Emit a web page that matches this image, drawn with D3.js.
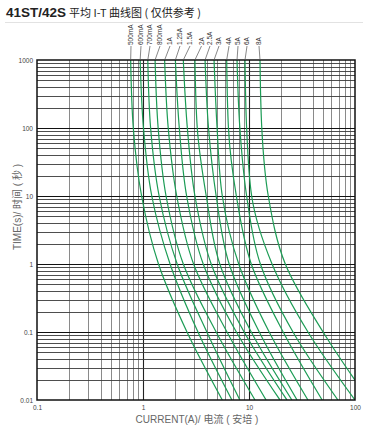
<!DOCTYPE html>
<html><head><meta charset="utf-8">
<script src="https://cdn.jsdelivr.net/npm/d3@7"></script>
<style>body{margin:0;background:#fff;font-family:"Liberation Sans",Arial,sans-serif}</style>
</head><body>
<svg id="c" width="382" height="428"></svg>
<script>
// ---- data ----
const times = [1000, 100, 10, 1, 0.1, 0.01];
const ratings = ["500mA","600mA","700mA","800mA","1A","1.25A","1.5A","2A","2.5A","3A","4A","5A","6A","8A"];
const c500mA = [0.765, 0.81, 0.97, 1.4, 2.6, 5.6];
const c600mA = [0.94, 1.01, 1.21, 1.8, 3.3, 6.9];
const c700mA = [1.11, 1.18, 1.42, 2.1, 4.0, 8.2];
const c800mA = [1.30, 1.39, 1.65, 2.4, 4.9, 11.4];
const c1A    = [1.60, 1.73, 2.08, 3.0, 6.2, 14.5];
const c1_25A = [2.02, 2.20, 2.58, 3.7, 7.6, 19.6];
const c1_5A  = [2.40, 2.62, 3.09, 4.4, 9.0, 22.8];
const c2A    = [3.09, 3.25, 3.95, 5.3, 10.5, 25.4];
const c2_5A  = [3.85, 4.15, 4.9, 6.5, 12.5, 28.4];
const c3A    = [4.68, 5.0, 5.6, 8.0, 15.5, 36];
const c4A    = [6.16, 6.4, 7.6, 10.5, 21, 49];
const c5A    = [7.71, 8.2, 9.5, 12.8, 26, 69];
const c6A    = [9.17, 9.5, 10.6, 16.5, 36, 100];
const c8A    = [12.7, 13.2, 15.2, 22, 50, 135];
const series = [c500mA,c600mA,c700mA,c800mA,c1A,c1_25A,c1_5A,c2A,c2_5A,c3A,c4A,c5A,c6A,c8A];
const labelX = [131, 141, 150, 160, 170, 180, 190, 201.5, 210, 219, 229, 238, 247, 259];
const xTickLabels = ["0.1","1","10","100"];
const yTickLabels = ["0.01","0.1","1","10","100","1000"];

// ---- chart ----
const svg = d3.select("#c");
const L=37,R=355,T=60,B=400;
const x = d3.scaleLog().domain([0.1,100]).range([L,R]);
const y = d3.scaleLog().domain([0.01,1000]).range([B,T]);

// title
const title = svg.append("text").attr("x",6).attr("y",17).attr("fill","#222");
title.append("tspan").attr("font-size",13.5).attr("font-weight","bold").attr("font-family","Liberation Sans, Arial").text("41ST/42S");
title.append("tspan").attr("font-size",11).attr("font-family","Noto Sans CJK SC").attr("dx",3).text("平均 I-T 曲线图 ( 仅供参考 )");
svg.append("line").attr("x1",5).attr("x2",363).attr("y1",22.5).attr("y2",22.5).attr("stroke","#e2e2e2").attr("stroke-width",1);

const isMajor = v => Math.abs(Math.log10(v) - Math.round(Math.log10(v))) < 1e-6;
// vertical grid
const g = svg.append("g");
x.ticks(30).forEach(v=>{
  if (v<=0.1||v>=100) return;
  const m = isMajor(v);
  g.append("line").attr("x1",Math.round(x(v))+0.5).attr("x2",Math.round(x(v))+0.5).attr("y1",T).attr("y2",B)
   .attr("stroke", m?"#222":"#8a8a8a").attr("stroke-width", m?1.1:1);
});
// horizontal grid
y.ticks(60).forEach(v=>{
  if (v<=0.01||v>=1000) return;
  const m = isMajor(v);
  g.append("line").attr("x1",L).attr("x2",R).attr("y1",Math.round(y(v))+0.5).attr("y2",Math.round(y(v))+0.5)
   .attr("stroke", m?"#111":"#3a3a3a").attr("stroke-width", m?1.2:0.9);
});

// curves
svg.append("clipPath").attr("id","clip").append("rect").attr("x",L).attr("y",T).attr("width",R-L).attr("height",B-T);
const line = d3.line().x(d=>x(d[0])).y(d=>y(d[1])).curve(d3.curveMonotoneY);
const cg = svg.append("g").attr("clip-path","url(#clip)");
series.forEach(s=>{
  cg.append("path").datum(s.map((c,i)=>[c,times[i]])).attr("d",line)
    .attr("fill","none").attr("stroke","#1c9c55").attr("stroke-width",1.2);
});

// frame
svg.append("rect").attr("x",L).attr("y",T).attr("width",R-L).attr("height",B-T).attr("fill","none").attr("stroke","#111").attr("stroke-width",1.5);

// labels on top
ratings.forEach((r,i)=>{
  const tx = x(series[i][0]);
  svg.append("line").attr("x1",labelX[i]).attr("y1",46).attr("x2",tx).attr("y2",T).attr("stroke","#555").attr("stroke-width",0.7);
  svg.append("text").attr("transform",`translate(${labelX[i]+2},45) rotate(-90)`)
    .attr("font-size",6.5).attr("fill","#333").text(r);
});

// y tick labels
const yAxis = d3.axisLeft(y).tickValues(yTickLabels.map(Number)).tickFormat((d,i)=>yTickLabels[i]).tickSize(0).tickPadding(4);
const ya = svg.append("g").attr("transform",`translate(${L},0)`).call(yAxis);
ya.select(".domain").remove();
ya.selectAll("text").attr("font-size",6.5).attr("fill","#444").attr("font-family","Liberation Sans, Arial");
// x tick labels
const xAxis = d3.axisBottom(x).tickValues(xTickLabels.map(Number)).tickFormat((d,i)=>xTickLabels[i]).tickSize(0).tickPadding(5);
const xa = svg.append("g").attr("transform",`translate(0,${B})`).call(xAxis);
xa.select(".domain").remove();
xa.selectAll("text").attr("font-size",6.5).attr("fill","#444").attr("font-family","Liberation Sans, Arial");

// axis titles
svg.append("text").attr("x",197).attr("y",423).attr("text-anchor","middle").attr("font-size",10)
  .attr("fill","#666").attr("font-family","Liberation Sans, Noto Sans CJK SC").text("CURRENT(A)/ 电流 ( 安培 )");
svg.append("text").attr("transform","translate(21,207) rotate(-90)").attr("text-anchor","middle").attr("font-size",10)
  .attr("fill","#666").attr("font-family","Liberation Sans, Noto Sans CJK SC").text("TIME(s)/ 时间 ( 秒 )");
</script>
</body></html>
